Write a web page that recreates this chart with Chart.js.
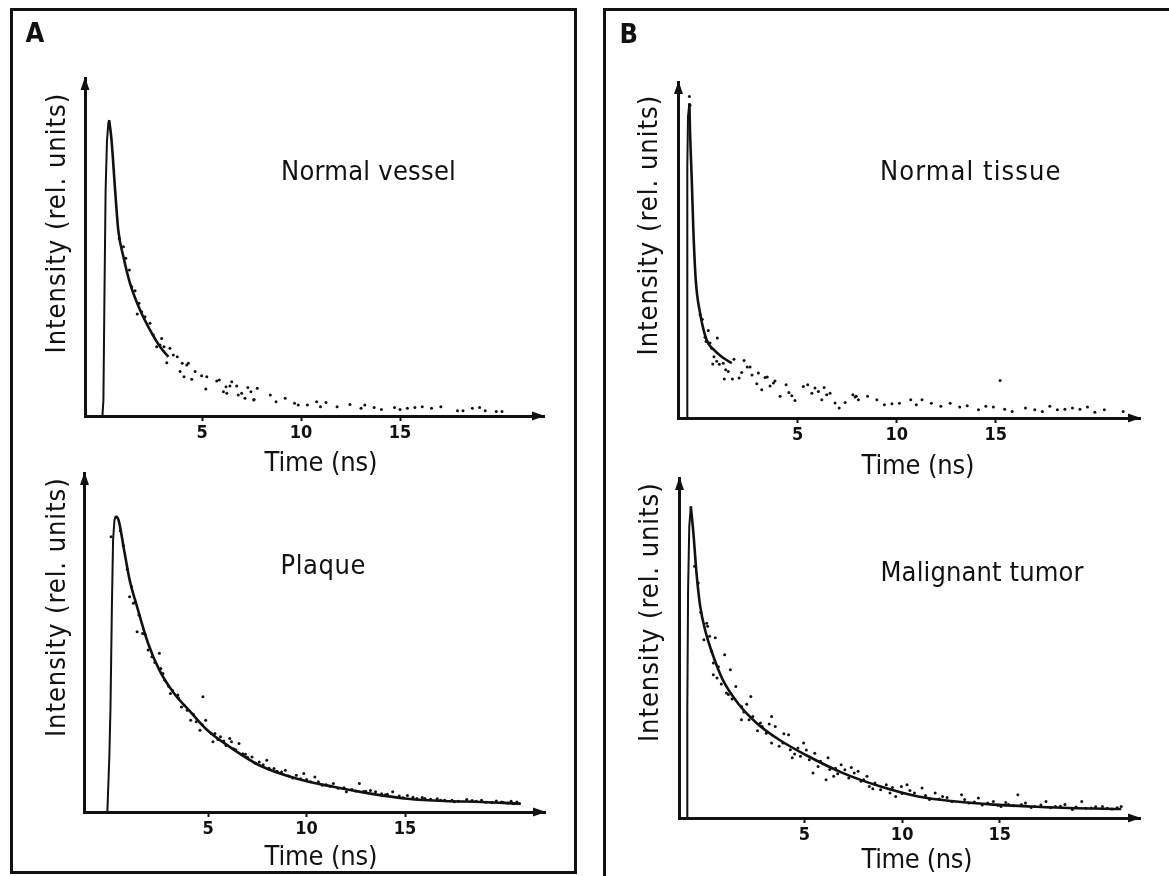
<!DOCTYPE html>
<html>
<head>
<meta charset="utf-8">
<script src="https://cdn.jsdelivr.net/npm/chart.js@4.4.1/dist/chart.umd.min.js"></script>
<style>
  body { margin: 0; background: #fff; }
  #page { position: relative; width: 1169px; height: 876px; overflow: hidden; background: #fff; }
  canvas { position: absolute; left: 0; top: 0; }
  .box { position: absolute; box-sizing: border-box; border: 0 solid #111; }
  .lbl { position: absolute; white-space: nowrap; color: #111; line-height: 1;
         font-family: "DejaVu Sans Condensed", "DejaVu Sans", sans-serif; }
</style>
</head>
<body>
<div id="page">
  <div class="box" style="left:10px;top:8px;width:567px;height:866px;border-width:3px;"></div>
  <div class="box" style="left:603px;top:8px;width:600px;height:900px;border-left-width:3px;border-top-width:3px;"></div>
  <canvas id="vessel" width="1169" height="876"></canvas>
  <canvas id="plaque" width="1169" height="876"></canvas>
  <canvas id="tissue" width="1169" height="876"></canvas>
  <canvas id="tumor" width="1169" height="876"></canvas>
</div>
<script>
// time axis ticks (ns)
const timeTicks = [5, 10, 15];

// A, normal vessel: [time ns, intensity rel. units]
const vesselRise = [[-0.03, 0], [0.02, 5.4], [0.07, 39], [0.13, 76], [0.2, 93], [0.27, 99], [0.31, 100]];
const vesselFit = [[0.31, 100], [0.43, 93.2], [0.61, 76.4], [0.77, 62.8], [1.03, 53.8], [1.36, 44.9],
  [1.87, 35.8], [2.46, 28], [2.88, 23.4], [3.3, 20]];
const vesselDots = [[0.82, 60.0], [1.03, 57.2], [1.15, 53.3], [1.33, 49.3], [1.45, 43.7], [1.62, 42.3],
  [1.82, 38.1], [1.73, 34.5], [1.95, 35.2], [2.12, 33.5], [2.37, 31.3], [2.54, 27.4], [2.71, 23.4],
  [2.88, 24.0], [2.96, 26.2], [3.08, 23.4], [3.22, 18.0], [3.38, 22.9], [3.55, 20.6], [3.75, 20.0],
  [3.89, 15.0], [4.0, 17.8], [4.23, 17.2], [4.31, 17.8], [4.09, 13.3], [4.48, 12.4], [4.65, 15.0],
  [4.98, 13.6], [5.19, 9.1], [5.24, 13.3], [5.74, 11.8], [5.87, 12.2], [6.08, 8.2], [6.21, 9.9],
  [6.25, 7.7], [6.41, 10.1], [6.5, 11.6], [6.75, 10.1], [6.83, 7.1], [7.0, 7.7], [7.17, 6.0],
  [7.31, 9.6], [7.47, 8.2], [7.63, 5.6], [7.79, 9.4], [7.61, 5.4], [8.45, 7.1], [8.74, 4.8],
  [9.2, 6.0], [9.67, 4.3], [9.86, 3.7], [10.32, 3.7], [10.79, 4.8], [10.98, 3.1], [11.26, 4.6],
  [11.82, 3.1], [12.47, 3.9], [13.03, 2.6], [13.22, 3.7], [13.69, 2.9], [14.06, 2.2], [14.72, 2.9],
  [15.0, 2.2], [15.37, 2.6], [15.75, 2.9], [16.12, 3.1], [16.59, 2.6], [17.06, 3.1], [17.9, 1.8],
  [18.18, 1.8], [18.65, 2.6], [19.02, 2.9], [19.3, 1.8], [19.86, 1.5], [20.15, 1.5]];

// A, plaque
const plaqueRise = [[-0.11, 0], [-0.01, 18.6], [0.05, 35.5], [0.12, 69.3], [0.18, 91.9], [0.25, 98.6], [0.32, 100]];
const plaqueFit = [[0.32, 100], [0.46, 98.6], [0.74, 88.5], [1.02, 78.4], [1.4, 69.3], [1.96, 56.9],
  [2.53, 47.9], [3.28, 40], [4.03, 34.4], [4.97, 27.6], [6.1, 22], [7.6, 15.8], [9.48, 11.3],
  [11.36, 8.5], [13.24, 6.2], [15.12, 4.5], [17, 3.7], [18.88, 3.4], [20.86, 2.8]];
const plaqueDots = [[0.08, 93.0], [0.55, 95.0], [0.7, 90.0], [0.9, 82.0], [1.12, 76.1], [1.02, 72.7],
  [1.21, 70.5], [1.3, 71.0], [1.49, 66.5], [1.4, 60.9], [1.68, 60.3], [1.8, 60.0], [1.96, 54.7],
  [2.15, 52.4], [2.53, 53.6], [2.3, 50.5], [2.6, 48.5], [2.71, 46.8], [2.81, 44.5], [3.0, 42.5],
  [3.09, 40.0], [3.2, 41.0], [3.47, 39.5], [3.5, 38.5], [3.65, 35.5], [3.8, 36.0], [3.94, 34.4],
  [4.12, 31.0], [4.25, 33.0], [4.4, 30.5], [4.59, 27.6], [4.7, 29.5], [4.74, 38.9], [4.88, 31.0],
  [5.16, 26.5], [5.25, 23.7], [5.35, 26.5], [5.5, 24.5], [5.63, 25.4], [5.8, 24.0], [5.91, 22.5],
  [6.1, 24.8], [6.19, 23.7], [6.29, 21.4], [6.4, 21.0], [6.57, 23.1], [6.76, 19.7], [6.9, 19.5],
  [7.0, 18.5], [7.23, 18.6], [7.4, 16.5], [7.6, 16.9], [7.8, 16.0], [7.98, 17.5], [8.1, 14.8],
  [8.35, 14.7], [8.5, 13.8], [8.73, 13.5], [8.92, 14.1], [9.1, 12.2], [9.3, 11.5], [9.48, 12.4],
  [9.7, 11.2], [9.86, 13.0], [10.0, 11.0], [10.2, 10.2], [10.42, 11.8], [10.6, 10.2], [10.8, 9.0],
  [11.0, 9.2], [11.2, 8.7], [11.36, 9.6], [11.6, 8.0], [11.9, 8.2], [12.02, 6.8], [12.3, 7.6],
  [12.5, 7.1], [12.68, 9.6], [12.9, 6.9], [13.0, 7.0], [13.24, 7.3], [13.5, 6.8], [13.81, 6.2],
  [14.0, 5.8], [14.1, 6.0], [14.37, 6.8], [14.7, 5.4], [14.9, 4.8], [15.12, 5.6], [15.4, 5.0],
  [15.6, 4.6], [15.87, 4.9], [16.0, 4.6], [16.3, 4.3], [16.63, 4.5], [16.8, 4.0], [17.0, 4.0],
  [17.38, 4.0], [17.5, 3.5], [17.7, 3.6], [18.13, 4.2], [18.4, 3.9], [18.6, 3.6], [18.88, 4.0],
  [19.1, 3.3], [19.4, 3.2], [19.63, 3.7], [19.9, 3.4], [20.0, 3.2], [20.2, 3.0], [20.38, 3.6],
  [20.5, 2.8], [20.67, 3.4], [20.8, 2.9]];

// B, normal tissue
const tissueRise = [[-0.58, 0], [-0.57, 40], [-0.56, 80], [-0.53, 96], [-0.46, 100]];
const tissueFit = [[-0.46, 100], [-0.43, 91.4], [-0.39, 84], [-0.34, 75.6], [-0.26, 59.7], [-0.14, 43.9],
  [0.08, 33.3], [0.41, 24.8], [0.77, 21.7], [1.2, 19.3], [1.68, 17.4]];
const tissueDots = [[-0.46, 102.2], [-0.43, 99.4], [0.08, 32.8], [0.19, 31.4], [0.49, 27.8], [0.33, 25.7],
  [0.38, 24.3], [0.58, 23.8], [0.95, 25.4], [0.67, 22.2], [0.78, 19.5], [0.72, 17.2], [0.92, 18.0],
  [1.05, 17.1], [1.25, 17.4], [1.37, 15.3], [1.5, 14.8], [1.3, 12.4], [1.71, 12.4], [1.79, 18.7],
  [2.05, 12.7], [2.18, 14.5], [2.3, 18.3], [2.46, 16.2], [2.6, 16.2], [2.7, 13.7], [2.94, 10.9],
  [3.02, 14.3], [3.19, 9.0], [3.36, 12.9], [3.47, 13.0], [3.61, 10.2], [3.78, 11.1], [3.86, 11.8],
  [4.12, 6.9], [4.42, 10.6], [4.56, 8.1], [4.71, 7.1], [4.87, 5.6], [5.29, 10.0], [5.51, 10.6],
  [5.72, 7.9], [5.88, 9.5], [6.05, 8.4], [6.22, 5.8], [6.34, 9.7], [6.47, 7.4], [6.64, 7.9],
  [6.89, 4.8], [7.1, 3.2], [7.4, 4.9], [7.79, 7.4], [7.9, 6.7], [8.07, 5.8], [7.96, 6.9],
  [8.53, 6.9], [9.0, 5.8], [9.38, 4.2], [9.76, 4.5], [10.14, 4.7], [10.71, 5.8], [10.99, 4.2],
  [11.28, 5.8], [11.75, 4.7], [12.23, 3.7], [12.7, 4.7], [13.18, 3.5], [13.56, 3.9], [14.13, 2.6],
  [14.5, 3.7], [14.88, 3.5], [15.22, 11.9], [15.45, 2.8], [15.83, 2.1], [16.5, 3.2], [16.97, 2.6],
  [17.35, 2.1], [17.73, 3.7], [18.11, 2.6], [18.49, 2.8], [18.87, 3.2], [19.25, 2.8], [19.63, 3.5],
  [20.0, 1.8], [20.48, 2.6], [21.43, 2.1]];

// B, malignant tumor
const tumorRise = [[-1.0, 0], [-0.99, 35.8], [-0.95, 73.3], [-0.89, 93.6], [-0.81, 100]];
const tumorFit = [[-0.81, 100], [-0.68, 91.5], [-0.52, 78.6], [-0.33, 67.9], [-0.04, 59.4], [0.34, 51.9],
  [0.82, 44.4], [1.59, 36.9], [2.55, 30.5], [3.71, 25.1], [5.05, 20.3], [6.98, 14.4], [8.9, 10.1],
  [10.82, 6.9], [12.75, 5.3], [14.67, 4.3], [16.59, 3.7], [18.52, 3.2], [21.21, 2.9]];
const tumorDots = [[-0.62, 80.8], [-0.43, 75.4], [-0.3, 66.0], [-0.14, 57.2], [0.0, 62.5], [0.15, 58.3],
  [0.44, 57.8], [0.05, 61.5], [0.25, 53.5], [0.34, 49.7], [0.92, 52.4], [0.34, 46.0], [0.53, 44.9],
  [0.6, 48.5], [0.75, 43.0], [1.21, 47.6], [1.01, 40.1], [1.11, 39.6], [1.3, 38.2], [1.49, 42.2],
  [1.9, 34.0], [2.05, 36.5], [2.26, 39.0], [1.78, 35.8], [1.78, 31.5], [2.17, 31.5], [2.36, 32.6],
  [2.6, 28.0], [2.75, 30.5], [2.84, 29.4], [3.05, 27.2], [3.2, 30.2], [3.32, 32.6], [3.51, 29.4],
  [3.32, 24.1], [3.71, 23.0], [3.9, 24.1], [3.95, 27.0], [4.19, 26.7], [4.28, 21.9], [4.38, 19.3],
  [4.5, 20.5], [4.67, 22.5], [4.8, 19.8], [4.96, 24.1], [5.1, 21.8], [5.25, 18.7], [5.44, 14.4],
  [5.53, 20.8], [5.7, 16.5], [5.82, 18.2], [6.11, 12.3], [6.21, 19.3], [6.3, 15.6], [6.5, 13.4],
  [6.59, 16.0], [6.7, 14.2], [6.88, 17.1], [7.07, 15.5], [7.27, 12.8], [7.4, 16.2], [7.55, 14.4],
  [7.75, 15.0], [7.9, 11.8], [8.03, 12.3], [8.2, 13.4], [8.32, 10.1], [8.5, 9.4], [8.61, 11.2],
  [8.9, 9.1], [9.19, 10.7], [9.38, 8.0], [9.5, 9.8], [9.67, 6.9], [9.96, 10.1], [10.0, 7.9],
  [10.25, 10.7], [10.4, 8.8], [10.63, 8.0], [11.02, 9.6], [11.2, 7.2], [11.4, 5.9], [11.69, 8.0],
  [11.9, 6.1], [12.07, 6.9], [12.3, 6.6], [12.55, 5.3], [13.04, 7.5], [13.2, 5.9], [13.42, 4.8],
  [13.7, 5.1], [13.9, 6.4], [14.1, 4.2], [14.38, 4.8], [14.67, 5.3], [14.9, 4.1], [15.06, 3.7],
  [15.3, 5.0], [15.44, 4.3], [15.7, 3.9], [15.92, 7.5], [16.1, 4.3], [16.31, 4.8], [16.6, 3.4],
  [16.79, 3.7], [17.1, 4.2], [17.36, 5.3], [17.6, 3.3], [17.84, 3.7], [18.1, 3.8], [18.33, 4.3],
  [18.71, 2.7], [18.9, 3.5], [19.19, 5.3], [19.4, 3.1], [19.67, 3.2], [19.9, 3.6], [20.25, 3.7],
  [20.5, 3.1], [20.73, 2.9], [21.0, 3.3], [21.21, 3.7]];

const W = 1169, H = 876;
const INK = '#111';
const FONT = '"DejaVu Sans Condensed", "DejaVu Sans", sans-serif';

const toXY = list => list.map(p => ({ x: p[0], y: p[1] }));

// arrow heads at the ends of both axes
const arrowPlugin = {
  id: 'arrows',
  afterDraw(chart) {
    const { ctx, chartArea: a } = chart;
    ctx.save();
    ctx.fillStyle = INK;
    ctx.beginPath();
    ctx.moveTo(a.right + 1, a.bottom);
    ctx.lineTo(a.right - 12, a.bottom - 4.5);
    ctx.lineTo(a.right - 12, a.bottom + 4.5);
    ctx.closePath();
    ctx.fill();
    ctx.beginPath();
    ctx.moveTo(a.left, a.top - 1);
    ctx.lineTo(a.left - 4.5, a.top + 12);
    ctx.lineTo(a.left + 4.5, a.top + 12);
    ctx.closePath();
    ctx.fill();
    ctx.restore();
  }
};

function makePanel(id, area, xMin, xMax, yMax, rise, fit, dots) {
  new Chart(document.getElementById(id), {
    type: 'scatter',
    data: {
      datasets: [
        { data: toXY(dots), pointRadius: 1.5, pointBackgroundColor: INK, pointBorderWidth: 0, clip: false },
        { data: toXY(rise), showLine: true, borderColor: INK, borderWidth: 2, pointRadius: 0, clip: false },
        { data: toXY(fit), showLine: true, borderColor: INK, borderWidth: 2.6, pointRadius: 0,
          cubicInterpolationMode: 'monotone', clip: false }
      ]
    },
    options: {
      responsive: false,
      animation: false,
      events: [],
      layout: { padding: { left: 0, top: area.top, right: W - area.right, bottom: 0 } },
      plugins: { legend: { display: false }, tooltip: { enabled: false } },
      scales: {
        x: {
          type: 'linear', min: xMin, max: xMax,
          afterBuildTicks: s => { s.ticks = timeTicks.map(v => ({ value: v })); },
          afterFit: s => { s.height = H - area.bottom; },
          ticks: { color: INK, font: { family: FONT, size: 18, weight: 'bold' }, padding: 2,
                   maxRotation: 0, autoSkip: false },
          grid: { drawOnChartArea: false, drawTicks: true, tickLength: 5, tickWidth: 2, tickColor: INK },
          border: { display: true, color: INK, width: 3 }
        },
        y: {
          min: 0, max: yMax,
          afterFit: s => { s.width = area.left; },
          ticks: { display: false },
          grid: { display: false },
          border: { display: true, color: INK, width: 3 }
        }
      }
    },
    plugins: [arrowPlugin]
  });
}

makePanel('vessel', { left: 85, top: 78, right: 544, bottom: 416 }, -0.91, 22.27, 114.2, vesselRise, vesselFit, vesselDots);
makePanel('plaque', { left: 84.5, top: 473, right: 545, bottom: 812 }, -1.27, 22.1, 114.5, plaqueRise, plaqueFit, plaqueDots);
makePanel('tissue', { left: 678.5, top: 82, right: 1140, bottom: 418 }, -1.01, 22.28, 106.8, tissueRise, tissueFit, tissueDots);
makePanel('tumor', { left: 679.5, top: 478, right: 1140, bottom: 818 }, -1.39, 22.17, 109.1, tumorRise, tumorFit, tumorDots);

// free text, stretched to the widths seen in the figure
const texts = [
  { t: 'A', cx: 35, cy: 32, size: 27, bold: true },
  { t: 'B', cx: 629, cy: 33, size: 27, bold: true },
  { t: 'Normal vessel', cx: 368.5, cy: 170, w: 175, size: 27 },
  { t: 'Plaque', cx: 323, cy: 564, w: 85, size: 27 },
  { t: 'Normal tissue', cx: 970, cy: 170, w: 180, size: 27 },
  { t: 'Malignant tumor', cx: 982, cy: 571, w: 203, size: 27 },
  { t: 'Time (ns)', cx: 321, cy: 461, w: 113, size: 27 },
  { t: 'Time (ns)', cx: 321, cy: 855, w: 113, size: 27 },
  { t: 'Time (ns)', cx: 918, cy: 464, w: 113, size: 27 },
  { t: 'Time (ns)', cx: 917, cy: 858, w: 111, size: 27 },
  { t: 'Intensity (rel. units)', cx: 55, cy: 223, w: 260, size: 27, rot: true },
  { t: 'Intensity (rel. units)', cx: 55, cy: 607, w: 259, size: 27, rot: true },
  { t: 'Intensity (rel. units)', cx: 647, cy: 225, w: 260, size: 27, rot: true },
  { t: 'Intensity (rel. units)', cx: 648, cy: 612, w: 259, size: 27, rot: true }
];

const page = document.getElementById('page');
texts.forEach(d => {
  const el = document.createElement('div');
  el.className = 'lbl';
  el.textContent = d.t;
  el.style.fontSize = d.size + 'px';
  if (d.bold) el.style.fontWeight = 'bold';
  page.appendChild(el);
  const natural = el.offsetWidth;
  const n = d.t.length;
  let inkW = natural;
  if (d.w && n > 1) {
    const ls = (d.w - natural) / (n - 1);
    el.style.letterSpacing = ls + 'px';
    inkW = natural + ls * (n - 1);
  }
  el.style.width = inkW + 'px';
  el.style.height = d.size + 'px';
  el.style.left = (d.cx - inkW / 2) + 'px';
  if (d.rot) {
    el.style.top = (d.cy - d.size / 2) + 'px';
    el.style.transformOrigin = '50% 50%';
    el.style.transform = 'rotate(-90deg)';
  } else {
    el.style.top = (d.cy - 0.48 * d.size) + 'px';
  }
});
</script>
</body>
</html>
